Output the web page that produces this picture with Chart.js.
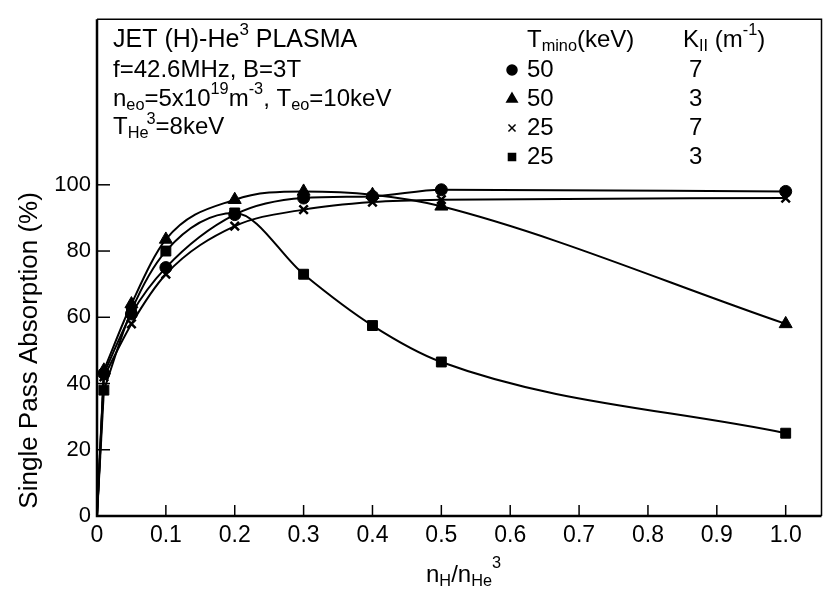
<!DOCTYPE html>
<html>
<head>
<meta charset="utf-8">
<script src="https://cdn.jsdelivr.net/npm/chart.js@4"></script>
<style>
  html, body { margin: 0; padding: 0; background: #fff; }
  #wrap { width: 830px; height: 594px; }
</style>
</head>
<body>
<div id="wrap"><canvas id="absorption-chart" width="830" height="594"></canvas></div>
<script>
// n_H / n_He3 ratios where the absorption was computed (0 = origin of the curves)
const ratios = [0, 0.01, 0.05, 0.1, 0.2, 0.3, 0.4, 0.5, 1.0];

// Single pass absorption (%) for each (T_mino, K_II) case
const absT50K7 = [0, 43, 61, 75, 91, 96, 96.5, 98.5, 98];
const absT50K3 = [0, 44, 64, 83.5, 95.5, 98, 97, 93.5, 58];
const absT25K7 = [0, 42, 58, 73, 87.5, 92.5, 94.8, 95.5, 96];
const absT25K3 = [0, 38, 62, 80, 91.5, 73, 57.5, 46.5, 25];

const xTicks = [0, 0.1, 0.2, 0.3, 0.4, 0.5, 0.6, 0.7, 0.8, 0.9, 1.0];
const yTicks = [0, 20, 40, 60, 80, 100];

// Legend rows: marker, T_mino (keV), K_II (m^-1)
const legendMarkers = ["circle", "triangle", "crossRot", "rect"];
const legendTmino = ["50", "50", "25", "25"];
const legendKpar = ["7", "3", "7", "3"];

const FONT = '"Liberation Sans", Arial, Helvetica, sans-serif';

function toPoints(values, from, to) {
    return ratios.slice(from, to).map((r, i) => ({ x: r, y: values[from + i] }));
}

// smooth curve through the computed points
function makeSeries(values, style, radius) {
    return {
        data: toPoints(values, 1),
        borderColor: "#000",
        backgroundColor: "#000",
        borderWidth: 2,
        pointStyle: style,
        pointRadius: radius,
        pointBorderWidth: style === "crossRot" ? 2.5 : 1,
        cubicInterpolationMode: "monotone",
        fill: false
    };
}

// steep rise from the origin up to the first point
function makeLeadIn(values) {
    return {
        data: toPoints(values, 0, 2),
        borderColor: "#000",
        borderWidth: 2,
        pointRadius: 0,
        tension: 0,
        fill: false
    };
}

// Draws text with sub/superscript parts, returns the end x
function drawRich(ctx, parts, x, y, size) {
    let cx = x;
    parts.forEach(([txt, kind]) => {
        let s = size, dy = 0;
        if (kind === "sub") { s = size * 0.68; dy = size * 0.28; }
        if (kind === "sup") { s = size * 0.68; dy = -size * 0.38; }
        ctx.font = s + "px " + FONT;
        ctx.fillText(txt, cx, y + dy);
        cx += ctx.measureText(txt).width;
    });
    return cx;
}

const framePlugin = {
    id: "frame",
    afterDraw(chart) {
        const ctx = chart.ctx;
        const a = chart.chartArea;
        const xs = chart.scales.x;
        const ys = chart.scales.y;
        ctx.save();
        ctx.strokeStyle = "#000";

        // frame around the plot
        ctx.lineWidth = 1.5;
        ctx.beginPath();
        ctx.moveTo(a.left, a.top);
        ctx.lineTo(a.right, a.top);
        ctx.lineTo(a.right, a.bottom);
        ctx.stroke();
        ctx.lineWidth = 2.5;
        ctx.beginPath();
        ctx.moveTo(a.left, a.top);
        ctx.lineTo(a.left, a.bottom);
        ctx.lineTo(a.right, a.bottom);
        ctx.stroke();

        // tick marks pointing into the plot
        ctx.lineWidth = 1.5;
        xTicks.forEach(v => {
            const px = xs.getPixelForValue(v);
            ctx.beginPath();
            ctx.moveTo(px, a.bottom);
            ctx.lineTo(px, a.bottom - 11);
            ctx.stroke();
        });
        yTicks.forEach(v => {
            const py = ys.getPixelForValue(v);
            ctx.beginPath();
            ctx.moveTo(a.left, py);
            ctx.lineTo(a.left + 13, py);
            ctx.stroke();
        });

        ctx.fillStyle = "#000";
        ctx.textBaseline = "middle";
        ctx.textAlign = "left";

        // y axis title, centred on the 0-100 range
        const midY = (ys.getPixelForValue(0) + ys.getPixelForValue(100)) / 2;
        ctx.save();
        ctx.translate(30, midY);
        ctx.rotate(-Math.PI / 2);
        ctx.textAlign = "center";
        ctx.font = "26px " + FONT;
        ctx.fillText("Single Pass Absorption (%)", 0, 0);
        ctx.restore();

        // plasma parameters
        const size = 24;
        const lx = 113;
        drawRich(ctx, [["JET (H)-He", ""], ["3", "sup"], [" PLASMA", ""]], lx, 40, size + 1);
        drawRich(ctx, [["f=42.6MHz, B=3T", ""]], lx, 70, size);
        drawRich(ctx, [["n", ""], ["eo", "sub"], ["=5x10", ""], ["19", "sup"], ["m", ""], ["-3", "sup"],
            [", T", ""], ["eo", "sub"], ["=10keV", ""]], lx, 99, size);
        const hx = drawRich(ctx, [["T", ""], ["He", "sub"]], lx, 127, size);
        ctx.font = (size * 0.68) + "px " + FONT;
        ctx.fillText("3", hx - 2, 127 - size * 0.32);
        ctx.font = size + "px " + FONT;
        ctx.fillText("=8keV", hx + 7, 127);

        // legend table
        drawRich(ctx, [["T", ""], ["mino", "sub"], ["(keV)", ""]], 527, 40, size);
        drawRich(ctx, [["K", ""], ["II", "sub"], [" (m", ""], ["-1", "sup"], [")", ""]], 683, 40, size);
        legendMarkers.forEach((style, i) => {
            const ry = 70 + i * 29;
            Chart.helpers.drawPoint(ctx, {
                pointStyle: style,
                radius: style === "triangle" ? 6 : 5,
                borderWidth: style === "crossRot" ? 2 : 1,
                rotation: 0
            }, 512, ry);
            ctx.fillStyle = "#000";
            ctx.strokeStyle = "#000";
            ctx.font = size + "px " + FONT;
            ctx.fillText(legendTmino[i], 527, ry);
            ctx.fillText(legendKpar[i], 689, ry);
        });

        // x axis title n_H / n_He^3
        const tx = drawRich(ctx, [["n", ""], ["H", "sub"], ["/n", ""], ["He", "sub"]], 426, 575, size);
        ctx.font = (size * 0.68) + "px " + FONT;
        ctx.fillText("3", tx, 575 - size * 0.5);

        ctx.restore();
    }
};

function buildChart() {
    const canvas = document.getElementById("absorption-chart");
    const ctx = canvas.getContext("2d");

    new Chart(ctx, {
        type: "line",
        data: {
            datasets: [
                makeSeries(absT50K7, "circle", 6),
                makeSeries(absT50K3, "triangle", 7.5),
                makeSeries(absT25K7, "crossRot", 6),
                makeSeries(absT25K3, "rect", 7),
                makeLeadIn(absT50K7),
                makeLeadIn(absT50K3),
                makeLeadIn(absT25K7),
                makeLeadIn(absT25K3)
            ]
        },
        options: {
            responsive: false,
            animation: false,
            layout: { padding: { top: 6, right: 4, left: 0, bottom: 0 } },
            plugins: {
                legend: { display: false },
                tooltip: { enabled: false }
            },
            scales: {
                x: {
                    type: "linear",
                    min: 0,
                    max: 1.052,
                    border: { display: false },
                    grid: { display: false, drawTicks: false },
                    afterBuildTicks: scale => { scale.ticks = xTicks.map(v => ({ value: v })); },
                    afterFit: scale => { scale.height = 78; },
                    ticks: {
                        padding: 6,
                        color: "#000",
                        font: { family: FONT, size: 23 },
                        callback: v => (v === 0 ? "0" : Number(v).toFixed(1))
                    }
                },
                y: {
                    min: 0,
                    max: 150,
                    border: { display: false },
                    grid: { display: false, drawTicks: false },
                    afterBuildTicks: scale => { scale.ticks = yTicks.map(v => ({ value: v })); },
                    afterFit: scale => { scale.width = 97; },
                    ticks: {
                        padding: 6,
                        color: "#000",
                        font: { family: FONT, size: 22 }
                    }
                }
            }
        },
        plugins: [framePlugin]
    });
}

buildChart();
</script>
</body>
</html>
